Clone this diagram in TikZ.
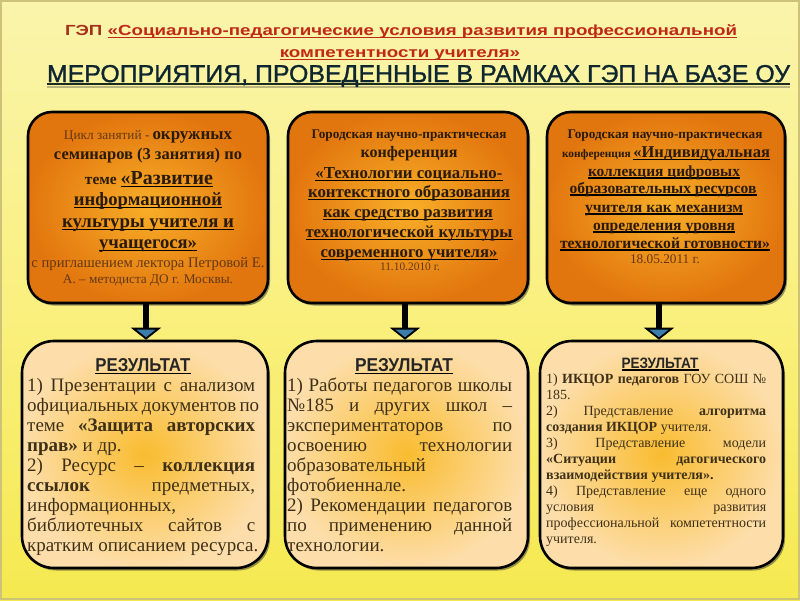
\documentclass[tikz,border=0pt]{standalone}
\usepackage{fontspec}
\setmainfont{Liberation Serif}
\newfontfamily\hsans{Liberation Sans}
\newfontfamily\hsansfb[FakeBold=1.2]{Liberation Sans}
\usepackage{graphicx}
\usetikzlibrary{arrows.meta,shadows}

\definecolor{bgtop}{RGB}{250,244,172}
\definecolor{bgmid}{RGB}{250,240,128}
\definecolor{bgbot}{RGB}{245,233,80}
\definecolor{framec}{RGB}{205,195,120}
\definecolor{orin}{RGB}{248,174,40}
\definecolor{orout}{RGB}{226,118,14}
\definecolor{pin}{RGB}{249,188,48}
\definecolor{pout}{RGB}{253,222,170}
\definecolor{tred}{RGB}{192,40,24}
\definecolor{tdred}{RGB}{165,50,28}
\definecolor{hnavy}{RGB}{14,38,48}
\definecolor{hul}{RGB}{28,45,32}
\definecolor{hshadow}{RGB}{185,180,125}
\definecolor{ink}{RGB}{42,26,8}
\definecolor{tbrown}{RGB}{100,55,20}
\definecolor{btxt}{RGB}{62,48,24}
\definecolor{ablue}{RGB}{58,125,170}

\newcommand\fs[1]{\fontsize{#1}{#1}\selectfont}
\newcommand\fw[2]{\resizebox{#1pt}{!}{#2}}
\newsavebox\ulbox
% colour, depth, thickness, text
\newcommand\ulc[4]{\sbox\ulbox{#4}\rlap{\textcolor{#1}{\rule[-#2]{\wd\ulbox}{#3}}}\usebox\ulbox}
\newcommand\ull[1]{\ulc{black}{0.17em}{0.075em}{#1}}
\newlength\bw
\newlength\hw
\newcommand\lineJ[1]{\makebox[\bw][s]{#1}}
\newcommand\lineL[1]{\makebox[\bw][l]{#1}}

\tikzset{
  topbox/.style={draw=black, line width=2.6pt, rounded corners=24pt,
    inner color=orin, outer color=orout, minimum width=240pt, minimum height=191pt,
    inner sep=0pt, drop shadow={shadow xshift=2pt, shadow yshift=-2.5pt, opacity=0.5, fill=black!80}},
  resbox/.style={draw=black, line width=2.6pt, rounded corners=32pt,
    inner color=pin, outer color=pout, minimum width=244pt, minimum height=227pt,
    inner sep=0pt, drop shadow={shadow xshift=2pt, shadow yshift=-2.5pt, opacity=0.5, fill=black!80}},
  conn/.style={line width=5.5pt, draw=black,
    -{Triangle[width=30pt,length=12pt,fill=ablue,line width=1.8pt]}},
  tl/.style={anchor=base, inner sep=0pt, text=ink},
  bt/.style={anchor=base west, inner sep=0pt, text=btxt},
  res/.style={anchor=base, inner sep=0pt, text=black!85},
}

\begin{document}
\settowidth\hw{\hsans\bfseries\fs{16}ГЭП «Социально-педагогические условия развития профессиональной}%
\pgfmathsetmacro\hsx{672/\hw}%
\pgfmathsetmacro\hsy{10.5/(0.716*16)}%
\begin{tikzpicture}[x=1pt,y=-1pt]
\useasboundingbox (0,0) rectangle (800,600);
\fill[top color=bgtop,bottom color=bgbot,middle color=bgmid] (0,0) rectangle (800,600);
\draw[line width=2pt, framec] (1,1) rectangle (799,599);

% titles
\node[anchor=base,inner sep=0pt] (h1) at (401,35) {\scalebox{\hsx}[\hsy]{\hsans\bfseries\fs{16}\textcolor{tdred}{ГЭП} \textcolor{tred}{\ulc{tred}{0.2em}{0.07em}{«Социально-педагогические условия развития профессиональной}}}};
\node[anchor=base,inner sep=0pt] (h2) at (400,57.5) {\scalebox{\hsx}[\hsy]{\hsans\bfseries\fs{16}\textcolor{tred}{\ulc{tred}{0.2em}{0.07em}{компетентности учителя»}}}};
\node[anchor=base,inner sep=0pt] (h3) at (418.5,82) {\resizebox{743pt}{17pt}{\hsansfb\textcolor{hnavy}{\sbox\ulbox{МЕРОПРИЯТИЯ, ПРОВЕДЕННЫЕ В РАМКАХ ГЭП НА БАЗЕ ОУ}\rlap{\textcolor{hshadow}{\rule[-0.24em]{\wd\ulbox}{0.08em}}}\rlap{\textcolor{hul}{\rule[-0.13em]{\wd\ulbox}{0.09em}}}\usebox\ulbox}}};

% boxes
\node[topbox] (T1) at (148,207.5) {};
\node[topbox] (T2) at (408,207.5) {};
\node[topbox, minimum width=238pt] (T3) at (666,207.5) {};
\node[resbox, minimum width=246pt] (B1) at (145,454.5) {};
\node[resbox, minimum width=243pt] (B2) at (406.5,454.5) {};
\node[resbox, minimum width=243pt] (B3) at (661.5,454.5) {};

% connectors
\path (T1.south) ++(-2,0) coordinate (a1);
\path (T2.south) ++(-3,0) coordinate (a2);
\path (T3.south) ++(-7,0) coordinate (a3);
\draw[conn] (a1) -- (a1 |- B1.north);
\draw[conn] (a2) -- (a2 |- B2.north);
\draw[conn] (a3) -- (a3 |- B3.north);

% top box 1
\node[tl] (t1a) at (148,139) {\fw{168}{{\fs{11}\color{tbrown}Цикл занятий -} {\bfseries\fs{14}окружных}}};
\node[tl] (t1b) at (148,159) {\fw{188}{\bfseries\fs{14}семинаров (3 занятия) по}};
\node[tl] (t1c) at (149,184) {\fw{128}{\bfseries\fs{14}теме {\fs{18}\ull{«Развитие}}}};
\node[tl] (t1d) at (148,205) {\fw{148}{\bfseries\fs{18}\ull{информационной}}};
\node[tl] (t1e) at (148,227) {\fw{172}{\bfseries\fs{18}\ull{культуры учителя и}}};
\node[tl] (t1f) at (148,248) {\fw{98}{\bfseries\fs{18}\ull{учащегося»}}};
\node[tl] (t1g) at (148,267) {\fw{233}{\fs{12}\color{tbrown}с приглашением лектора Петровой Е.}};
\node[tl] (t1h) at (148,283) {\fw{170}{\fs{12}\color{tbrown}А. – методиста ДО г. Москвы.}};

% top box 2
\node[tl] (t2a) at (409,138) {\fw{195}{\bfseries\fs{11}Городская научно-практическая}};
\node[tl] (t2b) at (409,157) {\fw{97}{\bfseries\fs{14}конференция}};
\node[tl] (t2c) at (409,178) {\fw{187}{\bfseries\fs{16}\ull{«Технологии социально-}}};
\node[tl] (t2d) at (409,197) {\fw{202}{\bfseries\fs{16}\ull{контекстного образования}}};
\node[tl] (t2e) at (408,217) {\fw{170}{\bfseries\fs{16}\ull{как средство развития}}};
\node[tl] (t2f) at (409,237) {\fw{207}{\bfseries\fs{16}\ull{технологической культуры}}};
\node[tl] (t2g) at (409,257) {\fw{177}{\bfseries\fs{16}\ull{современного учителя»}}};
\node[tl] (t2h) at (410,270) {\fw{60}{\fs{12}\color{tbrown}11.10.2010 г.}};

% top box 3
\node[tl] (t3a) at (665,138) {\fw{195}{\bfseries\fs{11}Городская научно-практическая}};
\node[tl] (t3b) at (666,157) {\fw{208}{{\bfseries\fs{11}конференция} {\bfseries\fs{16}\ull{«Индивидуальная}}}};
\node[tl] (t3c) at (664,176) {\fw{152}{\bfseries\fs{16}\ull{коллекция цифровых}}};
\node[tl] (t3d) at (663,193) {\fw{187}{\bfseries\fs{16}\ull{образовательных ресурсов}}};
\node[tl] (t3e) at (664,212) {\fw{158}{\bfseries\fs{16}\ull{учителя как механизм}}};
\node[tl] (t3f) at (664,230) {\fw{142}{\bfseries\fs{16}\ull{определения уровня}}};
\node[tl] (t3g) at (665,248) {\fw{210}{\bfseries\fs{16}\ull{технологической готовности»}}};
\node[tl] (t3h) at (665,263) {\fw{70}{\fs{12}\color{tbrown}18.05.2011 г.}};

% result headings
\node[res] (r1) at (143,371) {\resizebox{95pt}{13pt}{\hsans\bfseries\ull{РЕЗУЛЬТАТ}}};
\node[res] (r2) at (404,371) {\resizebox{98pt}{13pt}{\hsans\bfseries\ull{РЕЗУЛЬТАТ}}};
\node[res] (r3) at (660,368) {\resizebox{77pt}{10.5pt}{\hsans\bfseries\ull{РЕЗУЛЬТАТ}}};

% result texts
\setlength\bw{228pt}
\foreach \txt [count=\i] in {
  {\lineJ{1) Презентации с анализом}},
  {\lineJ{официальных документов по}},
  {\lineJ{теме \textbf{«Защита авторских}}},
  {\lineL{\textbf{прав»} и др.}},
  {\lineJ{2) Ресурс – \textbf{коллекция}}},
  {\lineJ{\textbf{ссылок} предметных,}},
  {\lineL{информационных,}},
  {\lineJ{библиотечных сайтов с}},
  {\lineL{кратким описанием ресурса.}}}
  \node[bt, font=\fs{19}] (b1-\i) at (27,{391+20*(\i-1)}) {\txt};

\setlength\bw{225pt}
\foreach \txt [count=\i] in {
  {\lineJ{1) Работы педагогов школы}},
  {\lineJ{№185 и других школ –}},
  {\lineJ{экспериментаторов по}},
  {\lineJ{освоению технологии}},
  {\lineL{образовательный}},
  {\lineL{фотобиеннале.}},
  {\lineJ{2) Рекомендации педагогов}},
  {\lineJ{по применению данной}},
  {\lineL{технологии.}}}
  \node[bt, font=\fs{19}] (b2-\i) at (287,{391+20*(\i-1)}) {\txt};

\setlength\bw{220pt}
\foreach \txt [count=\i] in {
  {\lineJ{1) \textbf{ИКЦОР педагогов} ГОУ СОШ №}},
  {\lineL{185.}},
  {\lineJ{2) Представление \textbf{алгоритма}}},
  {\lineL{\textbf{создания ИКЦОР} учителя.}},
  {\lineJ{3) Представление модели}},
  {\lineJ{\textbf{«Ситуации дагогического}}},
  {\lineL{\textbf{взаимодействия учителя».}}},
  {\lineJ{4) Представление еще одного}},
  {\lineJ{условия развития}},
  {\lineJ{профессиональной компетентности}},
  {\lineL{учителя.}}}
  \node[bt, font=\fs{14}] (b3-\i) at (546,{383+16*(\i-1)}) {\txt};
\end{tikzpicture}
\end{document}
